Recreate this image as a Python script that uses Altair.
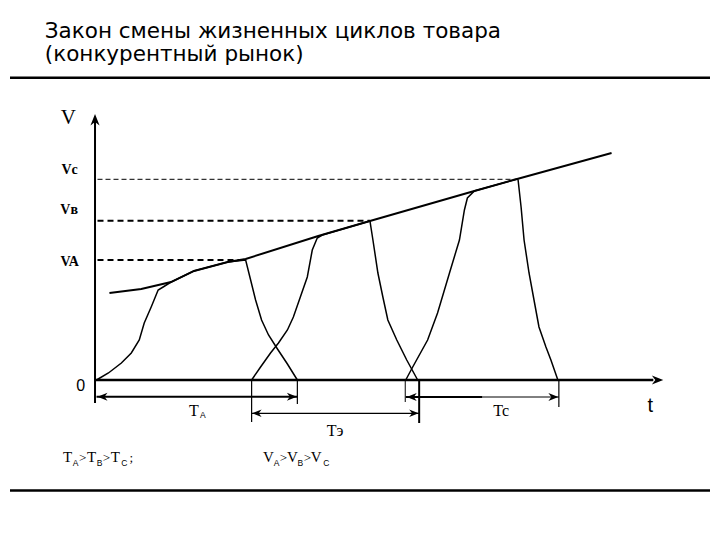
import altair as alt
import pandas as pd

# ---------------- data (t = time units, V = volume units; origin at axes crossing) ----------------
title_lines = ["Закон смены жизненных циклов товара", "(конкурентный рынок)"]
title_t = [-5.2, -5.2]
title_v = [34.25, 31.9]

# market envelope line
env_t = [1.3, 4.5, 7.5, 9.8, 13.2, 15.0, 22.3, 27.5, 38.0, 42.3, 51.8]
env_v = [8.7, 9.1, 9.8, 10.9, 11.8, 12.1, 14.4, 15.9, 18.9, 20.1, 22.7]

# life cycle of product A
a_t = [0.0, 1.2, 2.5, 3.5, 4.3, 4.8, 5.5, 6.2, 6.7, 7.5, 9.8, 13.2, 15.0,
       15.5, 16.0, 16.6, 17.3, 18.2, 19.2, 20.2]
a_v = [0.0, 0.7, 1.7, 2.7, 4.0, 5.7, 7.3, 9.0, 9.3, 9.8, 10.9, 11.8, 12.0,
       10.0, 8.0, 6.0, 4.5, 3.1, 1.6, 0.0]
# life cycle of product B
b_t = [15.6, 16.5, 17.5, 18.3, 19.2, 19.8, 20.5, 21.2, 21.7, 22.2, 22.7, 27.5,
       27.8, 28.3, 28.8, 29.3, 30.2, 31.2, 32.3]
b_v = [0.0, 1.3, 2.7, 3.7, 5.0, 6.3, 8.3, 10.3, 13.0, 14.2, 14.5, 15.9,
       14.0, 10.7, 8.3, 6.0, 4.0, 2.0, 0.0]
# life cycle of product C
c_t = [31.1, 31.8, 33.3, 34.3, 35.5, 36.5, 37.0, 37.3, 38.0, 42.3,
       42.4, 42.7, 43.0, 43.5, 44.0, 44.5, 45.2, 45.7, 46.4]
c_v = [0.0, 1.3, 4.0, 6.7, 10.7, 14.0, 17.0, 18.2, 18.9, 20.1,
       20.0, 17.3, 14.0, 10.7, 8.0, 5.3, 3.3, 2.0, 0.0]

# peak levels VA, VB, VC
level_names = ["VA", "Vв", "Vc"]
level_v = [12.0, 15.93, 20.07]
level_end_t = [15.0, 27.5, 42.3]
level_label_t = [-2.7, -2.75, -2.7]
level_label_v = [11.84, 17.0, 21.0]

# life durations TA, TB, TC
dur_start = [0.0, 15.6, 31.1]
dur_end = [20.2, 32.45, 46.5]
dur_level = [-1.67, -3.33, -1.7]

# ---------------- scales ----------------
T_DOMAIN = [-8.7, 61.7]
V_DOMAIN = [-15.2, 37.2]
xs = alt.Scale(domain=T_DOMAIN, nice=False, zero=False)
ys = alt.Scale(domain=V_DOMAIN, nice=False, zero=False)


def X(f="t"):
    return alt.X(f"{f}:Q", scale=xs, axis=None)


def Y(f="v"):
    return alt.Y(f"{f}:Q", scale=ys, axis=None)


# ---------------- layers ----------------
sep = pd.DataFrame({"t": [T_DOMAIN[0]] * 2, "t2": [T_DOMAIN[1]] * 2, "v": [30.22, -11.05]})
sep_layer = alt.Chart(sep).mark_rule(color="black", strokeWidth=2.5).encode(
    x=X(), x2=alt.X2("t2:Q"), y=Y())

# axes
xaxis = pd.DataFrame({"t": [-0.15], "t2": [56.0], "v": [0.0]})
xaxis_layer = alt.Chart(xaxis).mark_rule(color="black", strokeWidth=2.5).encode(
    x=X(), x2=alt.X2("t2:Q"), y=Y())
yaxis = pd.DataFrame({"t": [-0.15], "v": [-2.3], "v2": [25.8]})
yaxis_layer = alt.Chart(yaxis).mark_rule(color="black", strokeWidth=2).encode(
    x=X(), y=Y(), y2=alt.Y2("v2:Q"))

# dashed peak levels
lv = pd.DataFrame({"name": level_names, "t": [0.1] * 3, "t2": level_end_t, "v": level_v})
dash_thick = alt.Chart(lv[lv["name"] != "Vc"]).mark_rule(
    color="black", strokeWidth=2, strokeDash=[6, 4]).encode(x=X(), x2=alt.X2("t2:Q"), y=Y())
dash_thin = alt.Chart(lv[lv["name"] == "Vc"]).mark_rule(
    color="black", strokeWidth=1, strokeDash=[5, 3]).encode(x=X(), x2=alt.X2("t2:Q"), y=Y())

# envelope
env = pd.DataFrame({"t": env_t, "v": env_v, "i": range(len(env_t))})
env_layer = alt.Chart(env).mark_line(color="black", strokeWidth=1.9).encode(
    x=X(), y=Y(), order="i:Q")

# product curves
rows = []
for name, ts, vs in [("A", a_t, a_v), ("B", b_t, b_v), ("C", c_t, c_v)]:
    for i, (t, v) in enumerate(zip(ts, vs)):
        rows.append({"prod": name, "t": t, "v": v, "i": i})
curves = pd.DataFrame(rows)
curve_layer = alt.Chart(curves).mark_line(color="black", strokeWidth=1.5).encode(
    x=X(), y=Y(), detail="prod:N", order="i:Q")

# duration lines
dur_lines = pd.DataFrame({
    "t": [dur_start[0], dur_start[1], dur_start[2], 38.8],
    "t2": [dur_end[0], dur_end[1], 38.8, dur_end[2]],
    "v": [dur_level[0], dur_level[1], dur_level[2], dur_level[2]],
    "w": [2.0, 1.2, 2.0, 1.0],
})
dur_layer = alt.Chart(dur_lines).mark_rule(color="black").encode(
    x=X(), x2=alt.X2("t2:Q"), y=Y(), strokeWidth=alt.StrokeWidth("w:Q", scale=None))

# vertical markers of durations
marks = pd.DataFrame({
    "t": [20.2, 15.6, 32.45, 31.05, 46.5],
    "v": [0.0] * 5,
    "v2": [-2.4, -4.2, -4.3, -2.2, -2.7],
    "w": [1.2, 1.2, 2.0, 1.0, 1.2],
})
marks_layer = alt.Chart(marks).mark_rule(color="black").encode(
    x=X(), y=Y(), y2=alt.Y2("v2:Q"), strokeWidth=alt.StrokeWidth("w:Q", scale=None))

# arrow heads (tip at the point)
ARROW = "M0,0L-2,-0.8L-1.4,0L-2,0.8Z"
heads = pd.DataFrame({
    "t": [-0.15, 57.0, 0.1, 20.15, 15.65, 32.4, 31.2, 46.45],
    "v": [26.6, 0.0, dur_level[0], dur_level[0], dur_level[1], dur_level[1], dur_level[2], dur_level[2]],
    "ang": [270, 0, 180, 0, 180, 0, 180, 0],
    "sz": [130, 130, 100, 100, 90, 90, 100, 100],
})
head_layer = alt.Chart(heads).mark_point(shape=ARROW, filled=True, color="black",
                                         opacity=1, strokeWidth=0).encode(
    x=X(), y=Y(), angle=alt.Angle("ang:Q", scale=None), size=alt.Size("sz:Q", scale=None))

# ---------------- texts ----------------
title_df = pd.DataFrame({"txt": title_lines, "t": title_t, "v": title_v})
title_layer = alt.Chart(title_df).mark_text(
    align="left", baseline="alphabetic", font="DejaVu Sans", fontSize=21.5, color="black").encode(
    x=X(), y=Y(), text="txt:N")

sans_df = pd.DataFrame({"txt": ["0", "t"], "t": [-1.6, 55.7], "v": [-0.6, -2.6], "fs": [16, 20]})
sans_layer = alt.Chart(sans_df).mark_text(font="Liberation Sans", color="black").encode(
    x=X(), y=Y(), text="txt:N", size=alt.Size("fs:Q", scale=None))

lvl_df = pd.DataFrame({"txt": level_names, "t": level_label_t, "v": level_label_v})
lvl_layer = alt.Chart(lvl_df).mark_text(font="Liberation Serif", fontWeight="bold",
                                        fontSize=14, color="black").encode(
    x=X(), y=Y(), text="txt:N")

serif_txt = ["V", "T", "Tэ", "Tc",
             "T", ">", "T", ">", "T", ";",
             "V", ">", "V", ">", "V"]
serif_t = [-2.83, 9.8, 24.0, 40.7,
           -2.9, -1.4, -0.5, 1.0, 1.9, 3.5,
           17.3, 18.8, 19.7, 21.2, 22.1]
serif_v = [26.25, -3.1, -5.1, -3.1,
           -7.7, -7.8, -7.7, -7.8, -7.7, -7.8,
           -7.7, -7.8, -7.7, -7.8, -7.7]
serif_fs = [21, 16, 16, 16,
            15, 13, 15, 13, 15, 13,
            15, 13, 15, 13, 15]
serif_df = pd.DataFrame({"txt": serif_txt, "t": serif_t, "v": serif_v, "fs": serif_fs})
serif_layer = alt.Chart(serif_df).mark_text(font="Liberation Serif", color="black").encode(
    x=X(), y=Y(), text="txt:N", size=alt.Size("fs:Q", scale=None))

sub_txt = ["A", "A", "B", "C", "A", "B", "C"]
sub_t = [10.7, -2.1, 0.3, 2.8, 18.1, 20.5, 23.1]
sub_v = [-3.5, -8.25, -8.25, -8.25, -8.25, -8.25, -8.25]
sub_df = pd.DataFrame({"txt": sub_txt, "t": sub_t, "v": sub_v})
sub_layer = alt.Chart(sub_df).mark_text(font="Liberation Sans", fontSize=8.5, color="black").encode(
    x=X(), y=Y(), text="txt:N")

chart = alt.layer(
    sep_layer, dash_thick, dash_thin, env_layer, curve_layer,
    dur_layer, marks_layer, xaxis_layer, yaxis_layer, head_layer,
    title_layer, sans_layer, lvl_layer, serif_layer, sub_layer,
).properties(
    width=704, height=524, padding=0, background="white",
    autosize=alt.AutoSizeParams(type="fit", contains="padding"),
).configure_view(strokeWidth=0, stroke="transparent")

chart.save("out.html", embed_options={"renderer": "svg", "actions": False})
